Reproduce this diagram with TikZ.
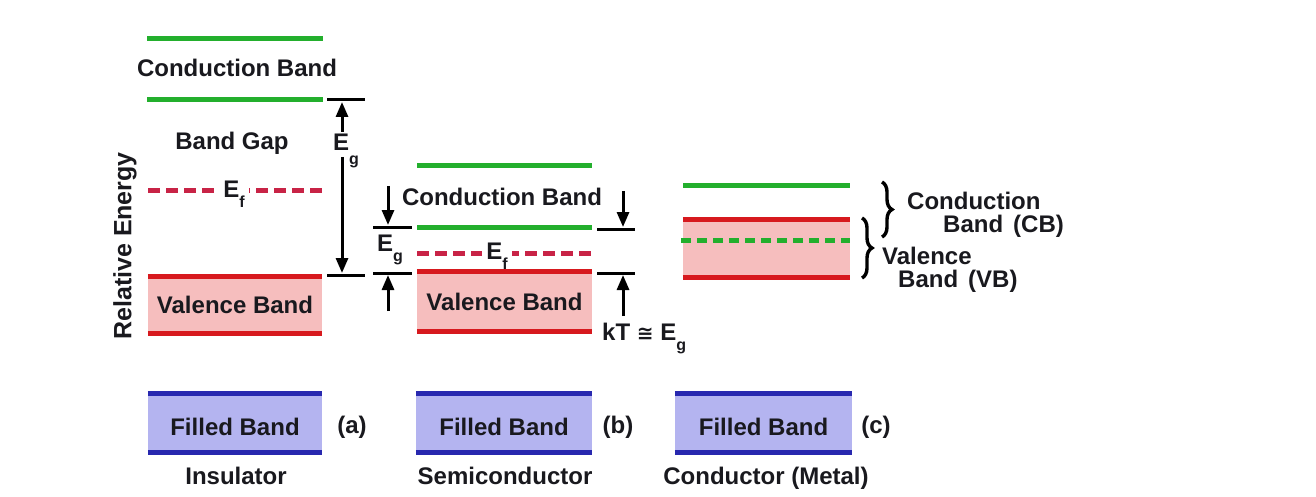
\documentclass[tikz,border=0pt]{standalone}
\usepackage{fontspec}
\setmainfont{Liberation Sans}
\newfontfamily\dejavu{DejaVu Sans}
\usetikzlibrary{arrows.meta,decorations.pathreplacing}

\definecolor{gband}{RGB}{35,175,45}
\definecolor{rband}{RGB}{215,25,30}
\definecolor{pinkf}{RGB}{246,190,190}
\definecolor{bluef}{RGB}{180,180,240}
\definecolor{bband}{RGB}{40,40,175}
\definecolor{efred}{RGB}{200,35,70}
\definecolor{txt}{RGB}{25,25,30}

\newcommand{\sbs}[2][-10pt]{\raisebox{#1}{\fontsize{16}{16}\selectfont #2}}

\begin{document}
\begin{tikzpicture}[x=1pt,y=-1pt,
  lbl/.style={font=\fontsize{24}{26}\selectfont\bfseries, text=txt, inner sep=0pt},
  gl/.style={draw=gband, line width=5pt},
  rl/.style={draw=rband, line width=5pt},
  bl/.style={draw=bband, line width=5pt},
  vbox/.style={lbl, fill=pinkf, minimum height=56pt},
  fbox/.style={lbl, fill=bluef, minimum height=58pt, text height=25pt},
  efdash/.style={draw=efred, line width=5pt, dash pattern=on 12pt off 6pt},
  gdash/.style={draw=gband, line width=5pt, dash pattern=on 10pt off 6pt},
  tickline/.style={draw=black, line width=3pt},
  arr/.style={draw=black, line width=3pt, -{Triangle[length=15pt,width=12pt]}},
  brc/.style={draw=black, line width=3.4pt, decorate, decoration={brace, amplitude=10pt}},
  tight/.style={text height=14pt, text depth=2pt}
]
\useasboundingbox (0,0) rectangle (1316,497);
\fill[white] (0,0) rectangle (1316,497);

% ---------- axis label
\node[lbl, rotate=90, font=\fontsize{25}{26}\selectfont\bfseries] (relE) at (125,246) {Relative Energy};

% ---------- (a) Insulator
\coordinate (icbT1) at (147,39);  \coordinate (icbT2) at (323,39);
\coordinate (icbB1) at (147,100); \coordinate (icbB2) at (323,100);
\draw[gl] (icbT1) -- (icbT2);
\draw[gl] (icbB1) -- (icbB2);
\node[lbl] (icb) at (237,68) {Conduction Band};
\node[lbl] (igap) at (232,143) {Band Gap};
\coordinate (ief1) at (148,191);
\coordinate (ief2) at (322,191);
\draw[efdash] (ief1) -- (ief2);
\node[lbl, fill=white, inner xsep=4pt, anchor=base] (ief) at (234,197) {E\sbs{f}};
\node[vbox, minimum width=174pt] (ivb) at (235,305) {Valence Band};
\draw[rl] (ivb.north west) -- (ivb.north east);
\draw[rl] (ivb.south west) -- (ivb.south east);
% Eg annotation
\coordinate (it1a) at (327,100); \coordinate (it1b) at (365,100);
\coordinate (it2a) at (327,275); \coordinate (it2b) at (365,275);
\draw[tickline] (it1a) -- (it1b);
\draw[tickline] (it2a) -- (it2b);
\node[lbl, anchor=base west] (ieg) at (333,151) {E\sbs[-14pt]{g}};
\coordinate (iup0) at (342,132); \coordinate (iup1) at (342,102);
\coordinate (idn0) at (342,157); \coordinate (idn1) at (342,273);
\draw[arr] (iup0) -- (iup1);
\draw[arr] (idn0) -- (idn1);

% ---------- (b) Semiconductor
\coordinate (scbT1) at (417,166); \coordinate (scbT2) at (592,166);
\coordinate (scbB1) at (417,227); \coordinate (scbB2) at (592,227);
\draw[gl] (scbT1) -- (scbT2);
\draw[gl] (scbB1) -- (scbB2);
\node[lbl] (scb) at (502,197) {Conduction Band};
\coordinate (sef1) at (417,253);
\coordinate (sef2) at (592,253);
\draw[efdash] (sef1) -- (sef2);
\node[lbl, fill=white, inner xsep=4pt, anchor=base] (sef) at (497,259) {E\sbs{f}};
\node[vbox, minimum width=175pt, minimum height=59pt] (svb) at (504.5,301.5) {Valence Band};
\draw[rl] (svb.north west) -- (svb.north east);
\draw[rl] (svb.south west) -- (svb.south east);
% left Eg
\coordinate (sl1a) at (373,227); \coordinate (sl1b) at (412,227);
\coordinate (sl2a) at (373,273); \coordinate (sl2b) at (412,273);
\draw[tickline] (sl1a) -- (sl1b);
\draw[tickline] (sl2a) -- (sl2b);
\coordinate (sld0) at (388,186); \coordinate (sld1) at (388,225);
\coordinate (slu0) at (388,311); \coordinate (slu1) at (388,275);
\draw[arr] (sld0) -- (sld1);
\draw[arr] (slu0) -- (slu1);
\node[lbl, anchor=base west] (seg) at (377,251) {E\sbs{g}};
% right kT
\coordinate (sr1a) at (597,229); \coordinate (sr1b) at (635,229);
\coordinate (sr2a) at (597,273); \coordinate (sr2b) at (635,273);
\draw[tickline] (sr1a) -- (sr1b);
\draw[tickline] (sr2a) -- (sr2b);
\coordinate (srd0) at (623,191); \coordinate (srd1) at (623,227);
\coordinate (sru0) at (623,316); \coordinate (sru1) at (623,275);
\draw[arr] (srd0) -- (srd1);
\draw[arr] (sru0) -- (sru1);
\node[lbl, anchor=base west] (skt) at (602,340) {kT {\dejavu\bfseries\fontsize{20}{20}\selectfont ≅} E\sbs{g}};

% ---------- (c) Conductor
\coordinate (ccb1) at (683,186);
\coordinate (ccb2) at (850,186);
\draw[gl] (ccb1) -- (ccb2);
\node[vbox, minimum width=167pt, minimum height=57pt] (cvb) at (766.5,248.5) {};
\draw[rl] (cvb.north west) -- (cvb.north east);
\draw[rl] (cvb.south west) -- (cvb.south east);
\coordinate (cef1) at (681,240);
\coordinate (cef2) at (850,240);
\draw[gdash] (cef1) -- (cef2);
\coordinate (cb1a) at (882,182); \coordinate (cb1b) at (882,237);
\coordinate (cb2a) at (862,218); \coordinate (cb2b) at (862,278);
\draw[brc] (cb1a) -- (cb1b);
\draw[brc] (cb2a) -- (cb2b);
\node[lbl, tight, anchor=base west] (ccbt1) at (907,209.5) {Conduction};
\node[lbl, tight, anchor=base west] (ccbt2) at (943,232.5) {Band\hspace{10pt}(CB)};
\node[lbl, tight, anchor=base west] (cvbt1) at (882,264.5) {Valence};
\node[lbl, tight, anchor=base west] (cvbt2) at (898,287.5) {Band\hspace{10pt}(VB)};

% ---------- Filled bands
\node[fbox, minimum width=174pt] (fa) at (235,423) {Filled Band};
\draw[bl] (fa.north west) -- (fa.north east);
\draw[bl] (fa.south west) -- (fa.south east);
\node[fbox, minimum width=176pt] (fb) at (504,423) {Filled Band};
\draw[bl] (fb.north west) -- (fb.north east);
\draw[bl] (fb.south west) -- (fb.south east);
\node[fbox, minimum width=177pt] (fc) at (763.5,423) {Filled Band};
\draw[bl] (fc.north west) -- (fc.north east);
\draw[bl] (fc.south west) -- (fc.south east);

\node[lbl] (la) at (352,427) {(a)};
\node[lbl] (lb) at (618,427) {(b)};
\node[lbl] (lc) at (876,427) {(c)};

\node[lbl, anchor=base] (ti) at (236,484) {Insulator};
\node[lbl, anchor=base] (ts) at (505,484) {Semiconductor};
\node[lbl, anchor=base] (tc) at (766,484) {Conductor (Metal)};
\end{tikzpicture}
\end{document}
